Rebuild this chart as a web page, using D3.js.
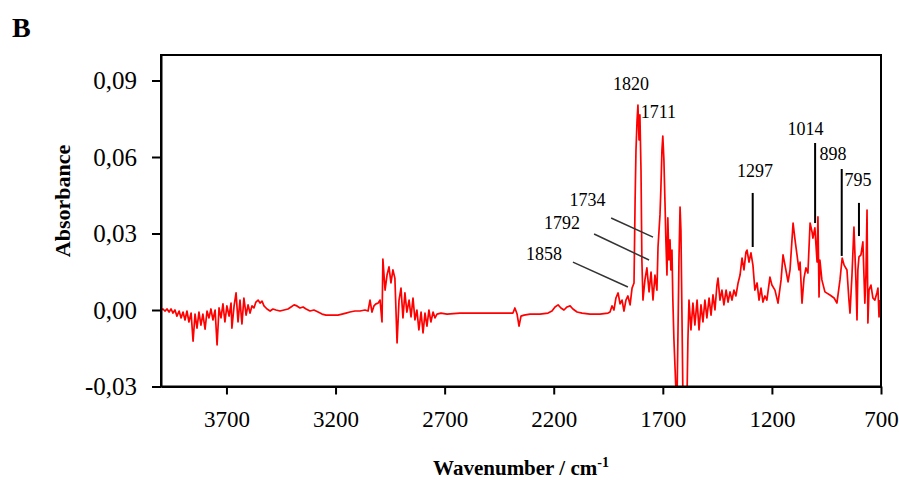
<!DOCTYPE html>
<html>
<head>
<meta charset="utf-8">
<script src="https://cdn.jsdelivr.net/npm/d3@7/dist/d3.min.js"></script>
<style>
  body { margin: 0; background: #fff; }
  svg { display: block; font-family: "Liberation Serif", "Times New Roman", serif; }
</style>
</head>
<body>
<script>
// spectrum: [wavenumber, absorbance]
const spectrum = [
  [4000, 0], [3991, 0.0004], [3982, -0.0004], [3972, 0.0004], [3963, -0.0008], [3954, 0.0004],
  [3945, -0.0012], [3936, 0], [3927, -0.0024], [3917, -0.0004], [3908, -0.0031], [3899, -0.0008],
  [3890, -0.0039], [3881, -0.0004], [3872, -0.0047], [3862, -0.0012], [3853, -0.0122], [3844, -0.0016],
  [3835, -0.0071], [3826, -0.0008], [3817, -0.0059], [3808, -0.0016], [3798, -0.0075], [3789, -0.0004],
  [3780, -0.0031], [3771, 0.0004], [3762, -0.0039], [3752, 0], [3743, -0.0137], [3734, 0.0008],
  [3725, -0.0031], [3716, 0.0024], [3707, -0.0047], [3698, 0.0016], [3688, -0.0024], [3679, 0.0027],
  [3675, -0.0071], [3665, 0.0016], [3656, 0.0067], [3647, -0.0047], [3638, 0.0039], [3629, -0.0055],
  [3620, 0.0047], [3610, -0.002], [3601, 0.002], [3592, -0.0012], [3583, 0.0016], [3574, 0.0008],
  [3565, 0.0031], [3555, 0.0039], [3546, 0.0027], [3537, 0.0035], [3528, 0.0016], [3514, 0.0004],
  [3500, -0.0004], [3487, 0.0004], [3473, 0], [3455, -0.0004], [3436, 0], [3418, 0.0004],
  [3404, 0.0012], [3390, 0.002], [3377, 0.0016], [3363, 0.0008], [3349, 0.0012], [3335, 0.0004],
  [3317, -0.0004], [3299, 0], [3280, -0.0008], [3262, -0.0016], [3244, -0.002], [3225, -0.002],
  [3207, -0.002], [3189, -0.002], [3170, -0.0016], [3152, -0.0012], [3134, -0.0008], [3111, -0.0004],
  [3088, -0.0004], [3065, 0], [3051, -0.0004], [3042, 0.0039], [3033, -0.0008], [3024, 0.0016],
  [3015, 0.0024], [3005, 0.0027], [2996, 0.0039], [2987, -0.0047], [2983, 0.02], [2973, 0.0078],
  [2964, 0.0137], [2955, 0.0169], [2946, 0.0106], [2937, 0.0157], [2928, 0.0125], [2918, -0.0129],
  [2909, 0.0039], [2900, 0.0086], [2891, -0.0031], [2882, 0.0067], [2873, -0.0008], [2863, 0.0039],
  [2854, -0.0027], [2845, 0.0047], [2836, -0.0039], [2827, 0], [2818, -0.0078], [2808, -0.0008],
  [2799, -0.009], [2790, -0.0012], [2781, -0.0063], [2772, 0], [2763, -0.0047], [2753, -0.0008],
  [2744, -0.0031], [2735, -0.0016], [2717, -0.0012], [2689, -0.0016], [2630, -0.0012], [2538, -0.0012],
  [2446, -0.0012], [2387, -0.0012], [2378, 0.0008], [2368, -0.0016], [2359, -0.0063], [2350, -0.0024],
  [2336, -0.002], [2309, -0.0016], [2263, -0.0016], [2226, -0.0012], [2208, -0.0004], [2194, 0.0012],
  [2180, 0.002], [2167, 0.0008], [2153, 0], [2139, 0.0012], [2125, 0.0016], [2112, 0.0004],
  [2093, -0.0008], [2070, -0.0012], [2034, -0.0016], [1988, -0.0016], [1951, -0.0012], [1942, -0.0008],
  [1933, 0.0016], [1924, 0], [1915, 0.0047], [1905, 0.0067], [1896, 0.0024], [1887, 0.0039],
  [1878, -0.0004], [1869, 0.0039], [1860, 0.0055], [1850, 0.002], [1841, 0.0086], [1832, 0.0106],
  [1827, 0.0431], [1823, 0.0627], [1818, 0.0745], [1814, 0.0804], [1809, 0.0667], [1805, 0.0765],
  [1800, 0.0549], [1796, 0.0196], [1791, 0.0039], [1782, 0.0118], [1773, 0.0165], [1763, 0.0071],
  [1754, 0.0149], [1745, 0.0039], [1736, 0.0137], [1727, 0.0078], [1722, 0.0247], [1713, 0.0373],
  [1709, 0.0471], [1704, 0.0627], [1700, 0.0682], [1695, 0.0588], [1690, 0.042], [1686, 0.0275],
  [1681, 0.0137], [1677, 0.0361], [1672, 0.0196], [1667, 0.0275], [1663, 0.0157], [1658, 0.0235],
  [1654, 0.0039], [1649, -0.0118], [1640, -0.0314], [1635, -0.0353], [1631, -0.0118], [1626, 0.0196],
  [1621, 0.0404], [1617, 0.0314], [1612, -0.0039], [1608, -0.0333], [1599, -0.0353], [1589, -0.0333],
  [1585, -0.0118], [1580, 0.0039], [1571, -0.0078], [1562, 0.0027], [1553, -0.0059], [1543, 0.0039],
  [1534, -0.0078], [1525, 0.002], [1516, -0.0047], [1507, 0.0039], [1498, -0.0031], [1488, 0.0047],
  [1479, -0.002], [1470, 0.0059], [1461, 0], [1452, 0.0098], [1447, 0.0125], [1438, 0.0039],
  [1429, 0.0078], [1420, 0.002], [1410, 0.0078], [1401, 0.0031], [1392, 0.0071], [1383, 0.0039],
  [1374, 0.0078], [1365, 0.0055], [1355, 0.0106], [1346, 0.0137], [1337, 0.0204], [1328, 0.0157],
  [1319, 0.0227], [1314, 0.0235], [1305, 0.0188], [1296, 0.0224], [1287, 0.0176], [1278, 0.0078],
  [1268, 0.0106], [1259, 0.0039], [1250, 0.0086], [1241, 0.0031], [1232, 0.0055], [1223, 0.0039],
  [1209, 0.0129], [1200, 0.0098], [1186, 0.0078], [1172, 0.0027], [1158, 0.0118], [1149, 0.0216],
  [1140, 0.0176], [1126, 0.011], [1117, 0.0157], [1103, 0.0341], [1094, 0.0275], [1085, 0.0216],
  [1076, 0.0157], [1071, 0.0188], [1062, 0.0027], [1053, 0.0125], [1044, 0.0165], [1035, 0.0145],
  [1025, 0.0341], [1016, 0.0306], [1012, 0.0282], [1003, 0.0322], [993, 0.0188], [989, 0.0365],
  [984, 0.0051], [980, 0.0196], [971, 0.0118], [957, 0.0071], [934, 0.0059], [915, 0.0047],
  [902, 0.0027], [888, 0.0118], [878, 0.0204], [869, 0.0176], [856, 0.0157], [847, 0.0039],
  [842, -0.0012], [833, 0.0137], [824, 0.0325], [815, 0.0118], [810, -0.0039], [806, 0.0157],
  [801, 0.0208], [792, 0.0216], [783, 0.0267], [774, 0.0027], [769, 0.0137], [764, 0.0392],
  [760, -0.0051], [755, 0.0078], [746, 0.0098], [737, 0.0047], [728, 0.0039], [719, 0.0067],
  [714, 0.0086], [709, -0.0027], [705, 0.0039]
];

const xTicks = [3700, 3200, 2700, 2200, 1700, 1200, 700];
const yTicks = [-0.03, 0, 0.03, 0.06, 0.09];

// peak labels: text, wavenumber, absorbance of the text
const peakText = ["1820", "1711", "1734", "1792", "1858", "1297", "1014", "898", "795"];
const peakTextWn = [1846, 1720, 2045, 2162, 2245, 1277, 1046, 920, 805];
const peakTextAbs = [0.0863, 0.0753, 0.0408, 0.0318, 0.0196, 0.0522, 0.0686, 0.0588, 0.0486];

// leader lines: [wn1, abs1, wn2, abs2]
const slantLeaders = [
  [1937, 0.0361, 1745, 0.0286],
  [2015, 0.0298, 1763, 0.0196],
  [2112, 0.0188, 1860, 0.009]
];
const stickLeaders = [
  [1288, 0.0459, 1288, 0.0247],
  [1002, 0.0655, 1002, 0.0341],
  [880, 0.0553, 880, 0.0212],
  [801, 0.042, 801, 0.029]
];

const width = 899, height = 480;
const plot = { left: 161, right: 881, top: 55, bottom: 386.5 };

const svg = d3.select("body").append("svg").attr("width", width).attr("height", height);

const x = d3.scaleLinear().domain([4000, 700]).range([plot.left, plot.right]);
const y = d3.scaleLinear().domain([-0.03, 0.1]).range([plot.bottom, plot.top]);

const locale = d3.formatLocale({ decimal: ",", thousands: ".", grouping: [3], currency: ["", ""], minus: "-" });
const yFmt = locale.format(".2f");

svg.append("clipPath").attr("id", "clip")
  .append("rect")
  .attr("x", plot.left).attr("y", plot.top)
  .attr("width", plot.right - plot.left).attr("height", plot.bottom - plot.top);

// spectrum
svg.append("path")
  .datum(spectrum)
  .attr("clip-path", "url(#clip)")
  .attr("fill", "none")
  .attr("stroke", "#ff0000")
  .attr("stroke-width", 1.7)
  .attr("stroke-linejoin", "round")
  .attr("d", d3.line().x((d) => x(d[0])).y((d) => y(d[1])));

// frame
svg.append("rect")
  .attr("x", plot.left).attr("y", plot.top)
  .attr("width", plot.right - plot.left).attr("height", plot.bottom - plot.top)
  .attr("fill", "none").attr("stroke", "#000").attr("stroke-width", 2);

// axes
const gx = svg.append("g")
  .attr("transform", `translate(0,${plot.bottom})`)
  .call(d3.axisBottom(x).tickValues(xTicks).tickFormat(d3.format("d"))
    .tickSize(8).tickSizeOuter(0).tickPadding(16));
gx.selectAll("text").attr("font-size", 23).attr("font-family", "Liberation Serif").attr("fill", "#000");

const gy = svg.append("g")
  .attr("transform", `translate(${plot.left},0)`)
  .call(d3.axisLeft(y).tickValues(yTicks).tickFormat(yFmt)
    .tickSize(9).tickSizeOuter(0).tickPadding(15));
gy.selectAll("text").attr("font-size", 25).attr("font-family", "Liberation Serif").attr("fill", "#000");

svg.selectAll(".domain, .tick line").attr("stroke", "#000").attr("stroke-width", 2);

// leaders
svg.selectAll(".slant")
  .data(slantLeaders)
  .enter()
  .append("line")
  .attr("class", "slant")
  .attr("x1", (d) => x(d[0])).attr("y1", (d) => y(d[1]))
  .attr("x2", (d) => x(d[2])).attr("y2", (d) => y(d[3]))
  .attr("stroke", "#333").attr("stroke-width", 1.5);

svg.selectAll(".stick")
  .data(stickLeaders)
  .enter()
  .append("line")
  .attr("class", "stick")
  .attr("x1", (d) => x(d[0])).attr("y1", (d) => y(d[1]))
  .attr("x2", (d) => x(d[2])).attr("y2", (d) => y(d[3]))
  .attr("stroke", "#000").attr("stroke-width", 2);

// peak labels
svg.selectAll(".peak")
  .data(peakText)
  .enter()
  .append("text")
  .attr("class", "peak")
  .attr("x", (d, i) => x(peakTextWn[i]))
  .attr("y", (d, i) => y(peakTextAbs[i]))
  .attr("text-anchor", "middle")
  .attr("font-size", 18)
  .text((d) => d);

// titles
svg.append("text")
  .attr("x", 12).attr("y", 37)
  .attr("font-size", 28).attr("font-weight", "bold")
  .text("B");

svg.append("text")
  .attr("transform", "translate(70,201) rotate(-90)")
  .attr("text-anchor", "middle")
  .attr("font-size", 22).attr("font-weight", "bold")
  .text("Absorbance");

const xt = svg.append("text")
  .attr("x", (plot.left + plot.right) / 2).attr("y", 475)
  .attr("text-anchor", "middle")
  .attr("font-size", 21).attr("font-weight", "bold");
xt.append("tspan").text("Wavenumber / cm");
xt.append("tspan").attr("dy", -8).attr("font-size", 14).text("-1");
</script>
</body>
</html>
